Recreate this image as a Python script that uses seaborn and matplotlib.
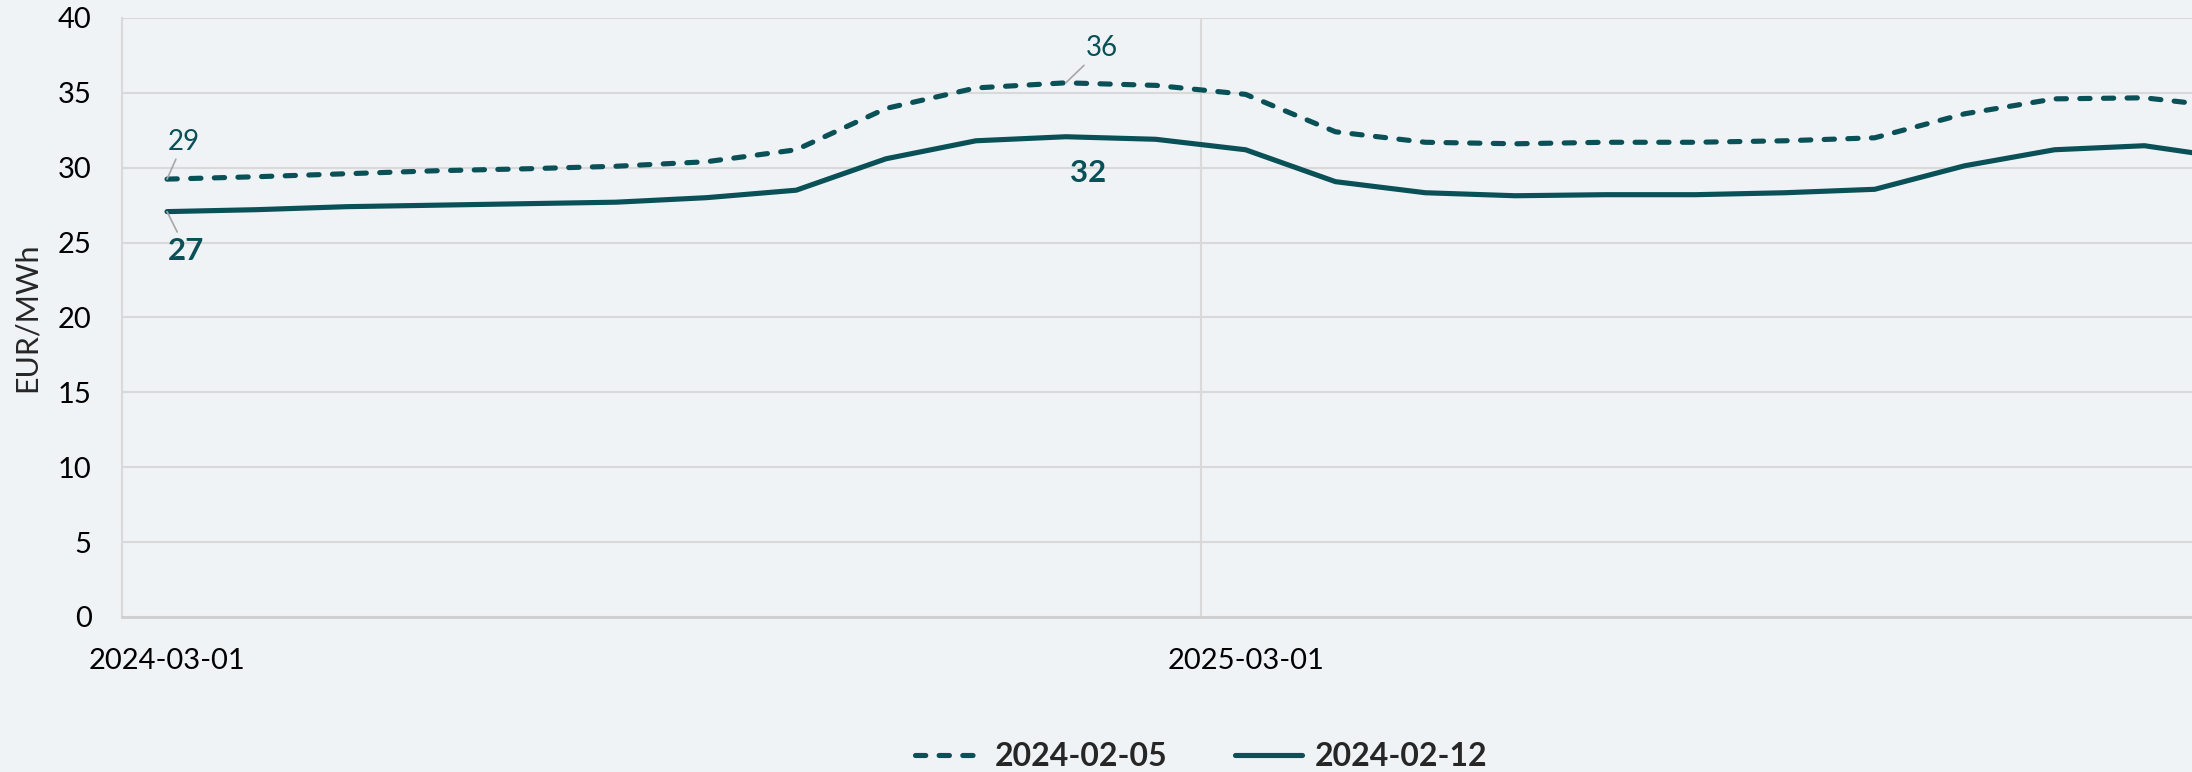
import pandas as pd
import matplotlib
matplotlib.use("Agg")
import matplotlib.pyplot as plt
import seaborn as sns

# Forward curve data, monthly delivery from 2024-03 (EUR/MWh)
months = pd.date_range("2024-03-01", periods=24, freq="MS").strftime("%Y-%m-%d").tolist()
curve_0205 = [29.24, 29.4, 29.6, 29.8, 29.93, 30.1, 30.4, 31.2, 33.96, 35.33, 35.67, 35.5,
              34.9, 32.4, 31.7, 31.6, 31.7, 31.7, 31.8, 32.0, 33.6, 34.6, 34.67, 34.0]
curve_0212 = [27.07, 27.2, 27.4, 27.5, 27.6, 27.7, 28.0, 28.5, 30.6, 31.8, 32.07, 31.9,
              31.2, 29.07, 28.33, 28.13, 28.2, 28.2, 28.33, 28.56, 30.13, 31.2, 31.47, 30.6]
series_names = ["2024-02-05", "2024-02-12"]
tick_months = ["2024-03-01", "2025-03-01"]

bg = "#eff3f6"
teal = "#0a5057"
grid_c = "#d9d9d9"

sns.set_theme(style="white")
plt.rcParams["font.family"] = ["Lato", "DejaVu Sans"]
plt.rcParams["lines.dash_capstyle"] = "round"
plt.rcParams["lines.solid_capstyle"] = "round"

# Long format for seaborn
df = pd.DataFrame({
    "pos": list(range(len(months))) * 2,
    "month": months * 2,
    "price": curve_0205 + curve_0212,
    "curve": [series_names[0]] * len(months) + [series_names[1]] * len(months),
})

fig = plt.figure(figsize=(21.92, 7.72), dpi=100, facecolor=bg)
ax = fig.add_axes([0.0557, 0.2008, 1.0 - 0.0557, 0.9767 - 0.2008])
ax.set_facecolor(bg)

sns.lineplot(data=df, x="pos", y="price", style="curve", style_order=series_names,
             dashes={series_names[0]: (2.0, 2.6), series_names[1]: ""},
             color=teal, linewidth=3.7, ax=ax)

# Axes formatting
ax.set_ylim(0, 40)
ax.set_yticks(range(0, 41, 5))
ax.set_xlim(-0.5, 22.53)
ax.set_xticks([months.index(m) for m in tick_months])
ax.set_xticklabels(tick_months)
ax.set_xticks([-0.5, 11.5], minor=True)
ax.tick_params(axis="both", which="both", length=0, labelsize=21, colors="black")
ax.tick_params(axis="x", pad=22)
ax.tick_params(axis="y", pad=22)
ax.grid(axis="y", color=grid_c, linewidth=1.5)
ax.grid(axis="x", which="minor", color=grid_c, linewidth=1.5)
ax.grid(axis="x", which="major", visible=False)
ax.set_axisbelow(True)
ax.set_xlabel("")
ax.set_ylabel("EUR/MWh", fontsize=22, labelpad=12)

for s in ["top", "right"]:
    ax.spines[s].set_visible(False)
ax.spines["left"].set_color(grid_c)
ax.spines["left"].set_linewidth(1.5)
ax.spines["bottom"].set_color("#cfcfcf")
ax.spines["bottom"].set_linewidth(2)

# Data labels
lead = dict(arrowstyle="-", color="#a6a6a6", lw=1.2, shrinkA=1, shrinkB=0)
ax.annotate(f"{curve_0205[0]:.0f}", xy=(0, curve_0205[0]), xytext=(12, 27),
            textcoords="offset points", ha="center", va="center",
            fontsize=20, color=teal, arrowprops=lead)
ax.annotate(f"{curve_0205[10]:.0f}", xy=(10, curve_0205[10]), xytext=(26, 25),
            textcoords="offset points", ha="center", va="center",
            fontsize=20, color=teal, arrowprops=lead)
ax.annotate(f"{curve_0212[0]:.0f}", xy=(0, curve_0212[0]), xytext=(14, -28),
            textcoords="offset points", ha="center", va="center",
            fontsize=22.5, fontweight="bold", color=teal, arrowprops=lead)
ax.annotate(f"{curve_0212[10]:.0f}", xy=(10, curve_0212[10]), xytext=(16, -26),
            textcoords="offset points", ha="center", va="center",
            fontsize=22.5, fontweight="bold", color=teal)

# Legend at the bottom
handles, labels = ax.get_legend_handles_labels()
ax.get_legend().remove()
leg = fig.legend(handles, labels, loc="center", bbox_to_anchor=(0.548, 0.02), ncol=2,
                 frameon=False, handlelength=2.1, handletextpad=0.4, columnspacing=2.1,
                 prop={"size": 23, "weight": "bold"})
for line in leg.get_lines():
    line.set_linewidth(3.7)

fig.savefig("out.png", dpi=100, facecolor=bg)
